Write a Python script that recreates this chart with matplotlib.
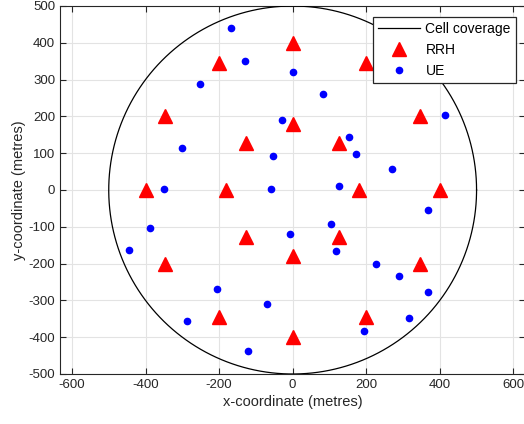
import numpy as np
import matplotlib
matplotlib.use("Agg")
import matplotlib.pyplot as plt

# RRH positions (metres)
rrh_x = [0, 0, 0, 0, 200, -200, 200, -200, 346, -346, 346, -346, 400, -400,
         180, -180, 127, -127, 127, -127]
rrh_y = [400, 180, -180, -400, 346, 346, -346, -346, 200, 200, -200, -200, 0, 0,
         0, 0, 127, 127, -127, -127]

# UE positions (metres)
ue_x = [-168, -129, -251, -301, -349,
        2, 82, 415, -30, 152, -54, 173, 271, -60, 125, 369,
        -388, -445, -205, -286, -122,
        103, -6, 119, 227, 288, 367, 315, 195, -71]
ue_y = [439, 351, 287, 113, 4,
        322, 262, 205, 191, 143, 92, 98, 57, 4, 11, -54,
        -103, -163, -268, -357, -438,
        -93, -120, -166, -202, -233, -278, -347, -383, -310]

cell_radius = 500
x_ticks = [-600, -400, -200, 0, 200, 400, 600]
y_ticks = [-500, -400, -300, -200, -100, 0, 100, 200, 300, 400, 500]

plt.rcParams['font.family'] = ['Liberation Sans', 'DejaVu Sans']
plt.rcParams['axes.unicode_minus'] = False
W, H = 524, 424
fig = plt.figure(figsize=(W / 100, H / 100), dpi=100)
ax = fig.add_axes([60 / W, 50 / H, 465.3 / W, 368 / H])

th = np.linspace(0, 2 * np.pi, 400)
ax.plot(cell_radius * np.cos(th), cell_radius * np.sin(th), color='black', lw=0.9,
        label='Cell coverage', zorder=3)
ax.plot(rrh_x, rrh_y, linestyle='none', marker='^', ms=10, color='red',
        label='RRH', zorder=4)
ax.plot(ue_x, ue_y, linestyle='none', marker='o', ms=4.5, color='blue',
        label='UE', zorder=4)

ax.set_xlim(-632.5, 632.5)
ax.set_ylim(-500, 500)
ax.set_xticks(x_ticks)
ax.set_yticks(y_ticks)
ax.grid(True, color='#e3e3e3', lw=0.8)
ax.set_axisbelow(True)
ax.tick_params(direction='in', top=True, right=True, length=4, width=0.8,
               colors='#262626', labelsize=9.5, labelcolor='#262626')
for s in ax.spines.values():
    s.set_color('#262626')
    s.set_linewidth(0.8)

ax.set_xlabel('x-coordinate (metres)', fontsize=10.5, color='#262626', labelpad=3)
ax.set_ylabel('y-coordinate (metres)', fontsize=10.5, color='#262626', labelpad=2)

leg = ax.legend(loc='upper right', bbox_to_anchor=(515.7 / W, 1 - 17.3 / H),
                bbox_transform=fig.transFigure, borderaxespad=0, fancybox=False,
                edgecolor='#262626', framealpha=1, fontsize=10, handlelength=3.0,
                handletextpad=0.4, labelspacing=0.5, borderpad=0.35)
leg.get_frame().set_linewidth(0.9)

fig.savefig('out.png', dpi=100)
